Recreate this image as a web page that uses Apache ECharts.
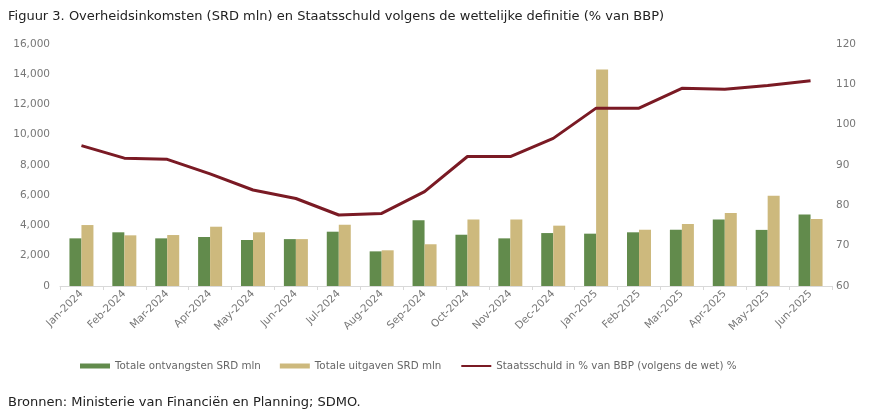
<!DOCTYPE html>
<html>
<head>
<meta charset="utf-8">
<script src="https://cdn.jsdelivr.net/npm/echarts@6/dist/echarts.min.js"></script>
<style>html,body{margin:0;padding:0;background:#fff}#c{width:870px;height:411px}</style>
</head>
<body>
<div id="c"></div>
<script>
const categories = ['Jan-2024','Feb-2024','Mar-2024','Apr-2024','May-2024','Jun-2024','Jul-2024','Aug-2024','Sep-2024','Oct-2024','Nov-2024','Dec-2024','Jan-2025','Feb-2025','Mar-2025','Apr-2025','May-2025','Jun-2025'];
const ontvangsten = [3150,3550,3150,3240,3040,3100,3590,2290,4340,3390,3150,3500,3460,3550,3720,4390,3710,4720];
const uitgaven = [4030,3350,3370,3920,3550,3100,4050,2360,2760,4400,4400,3990,14320,3720,4100,4830,5970,4430];
const staatsschuld = [94.8,91.7,91.4,87.8,83.8,81.7,77.6,78.0,83.4,92.1,92.1,96.6,104.1,104.1,109.0,108.8,109.7,110.9];
const leftTicks = {min:0, max:16000, interval:2000};
const rightTicks = {min:60, max:120, interval:10};
const names = ['Totale ontvangsten SRD mln','Totale uitgaven SRD mln','Staatsschuld in % van BBP (volgens de wet) %'];

const chart = echarts.init(document.getElementById('c'), null, {renderer:'canvas'});
const font = 'Verdana, "DejaVu Sans", sans-serif';
chart.setOption({
  animation:false,
  title:[
    {text:'Figuur 3. Overheidsinkomsten (SRD mln) en Staatsschuld volgens de wettelijke definitie (% van BBP)', left:3, top:5,
     textStyle:{fontFamily:font, fontSize:13, fontWeight:'normal', color:'#222'}},
    {text:'Bronnen: Ministerie van Financiën en Planning; SDMO.', left:3, top:391,
     textStyle:{fontFamily:font, fontSize:13, fontWeight:'normal', color:'#222'}}
  ],
  legend:{
    top:356, left:75, itemGap:19, itemWidth:30, itemHeight:5,
    textStyle:{fontFamily:font, fontSize:10.3, color:'#666'},
    data:[{name:names[0], icon:'rect'},{name:names[1], icon:'rect'},
          {name:names[2], itemStyle:{opacity:0}}]
  },
  grid:{left:60, right:38, top:44, bottom:125},
  xAxis:{
    type:'category', data:categories,
    axisLine:{lineStyle:{color:'#d9d9d9'}},
    axisTick:{show:true, length:4, lineStyle:{color:'#d9d9d9'}},
    axisLabel:{rotate:45, fontFamily:font, fontSize:10.5, color:'#777', margin:6}
  },
  yAxis:[
    {type:'value', min:leftTicks.min, max:leftTicks.max, interval:leftTicks.interval,
     splitLine:{show:false}, axisLine:{show:false}, axisTick:{show:false},
     axisLabel:{fontFamily:font, fontSize:10.5, color:'#777', margin:10,
       formatter:v=>v.toLocaleString('en-US')}},
    {type:'value', min:rightTicks.min, max:rightTicks.max, interval:rightTicks.interval,
     splitLine:{show:false}, axisLine:{show:false}, axisTick:{show:false},
     axisLabel:{fontFamily:font, fontSize:10.5, color:'#777', margin:4}}
  ],
  series:[
    {name:names[0], type:'bar', data:ontvangsten, barWidth:12, barGap:'0%',
     itemStyle:{color:'#628b4c'}},
    {name:names[1], type:'bar', data:uitgaven, barWidth:12, barGap:'0%',
     itemStyle:{color:'#cdb97d'}},
    {name:names[2], type:'line', yAxisIndex:1, data:staatsschuld, symbol:'none',
     lineStyle:{color:'#7a1a24', width:3}, itemStyle:{color:'#7a1a24'}}
  ]
});
</script>
</body>
</html>
